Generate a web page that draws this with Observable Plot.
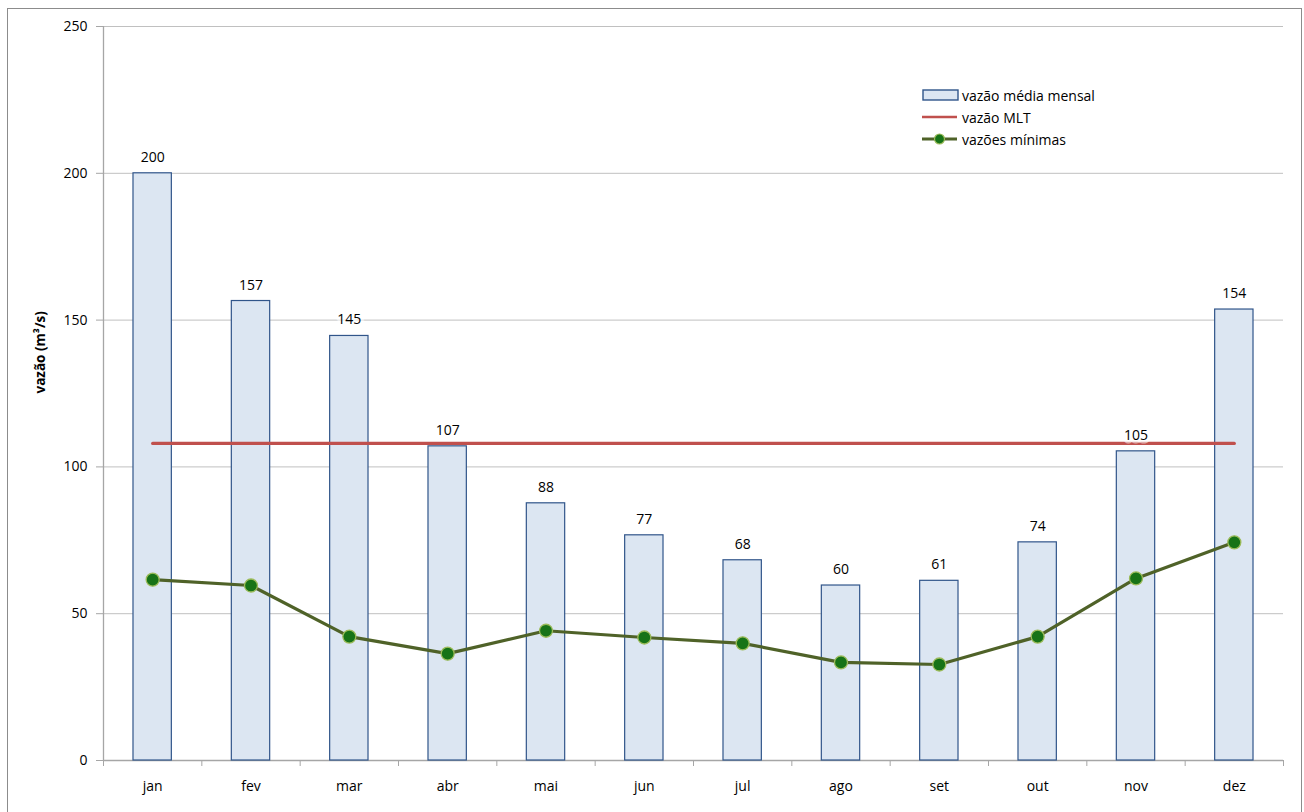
<!DOCTYPE html>
<html>
<head>
<meta charset="utf-8">
<script src="https://cdn.jsdelivr.net/npm/d3@7"></script>
<script src="https://cdn.jsdelivr.net/npm/@observablehq/plot@0.6"></script>
<style>
  html, body { margin: 0; padding: 0; background: #fff; }
  body { width: 1304px; height: 812px; overflow: hidden; position: relative; font-family: "Open Sans", "Noto Sans", sans-serif; }
  #frame { position: absolute; left: 7px; top: 8px; width: 1295px; height: 830px; border: 1px solid #8c8c8c; box-sizing: border-box; }
  #chart { position: absolute; left: 0; top: 0; }
  #legend { position: absolute; left: 922px; top: 84px; font-size: 14px; color: #000; }
  #legend .row { height: 22px; display: flex; align-items: center; }
  #legend svg { margin-right: 2px; }
</style>
</head>
<body>
<div id="frame"></div>
<div id="chart"></div>
<div id="legend"></div>
<script>
const months = ["jan","fev","mar","abr","mai","jun","jul","ago","set","out","nov","dez"];
const monthlyMean = [200.0, 156.5, 144.6, 107.0, 87.6, 76.7, 68.2, 59.6, 61.2, 74.3, 105.3, 153.6];
const minFlows = [61.6, 59.6, 42.2, 36.4, 44.2, 41.9, 39.9, 33.4, 32.7, 42.2, 62.0, 74.3];
const mlt = 108.0;
const yTicks = [0, 50, 100, 150, 200, 250];
const seriesNames = ["vazão média mensal", "vazão MLT", "vazões mínimas"];

const data = months.map((m, i) => ({ month: m, i, mean: monthlyMean[i], min: minFlows[i] }));
const boundaries = d3.range(months.length + 1);
const centers = data.map(d => d.i + 0.5);

const font = "'Open Sans', 'Noto Sans', sans-serif";

const chart = Plot.plot({
  width: 1304,
  height: 812,
  marginLeft: 103,
  marginRight: 21,
  marginTop: 26,
  marginBottom: 52,
  style: { fontFamily: font, fontSize: "13px", background: "transparent", color: "#000" },
  x: { type: "linear", domain: [0, months.length], axis: null },
  y: { domain: [0, 250], axis: null },
  marks: [
    Plot.ruleY(yTicks.filter(d => d > 0), { stroke: "#c0c0c0", strokeWidth: 1 }),
    Plot.axisY({ ticks: yTicks, tickSize: 7, tickPadding: 9, stroke: "#a6a6a6", fontSize: 14, tickFormat: d3.format("d"), label: null }),
    Plot.ruleX([0], { stroke: "#a6a6a6", strokeWidth: 1.3 }),
    Plot.ruleY([0], { stroke: "#a6a6a6", strokeWidth: 1.3 }),
    Plot.axisX({ ticks: boundaries, tickSize: 6, tickFormat: () => "", stroke: "#a6a6a6", label: null }),
    Plot.axisX({ ticks: centers, tickSize: 0, tickPadding: 21, fontSize: 14, tickFormat: v => months[Math.floor(v)], label: null }),
    Plot.text(["vazão (m³/s)"], { frameAnchor: "left", dx: -63, rotate: -90, fontWeight: "bold", fontSize: 13.5, text: d => d }),
    Plot.rectY(data, { x1: d => d.i + 0.305, x2: d => d.i + 0.695, y: "mean", fill: "#dce6f2", stroke: "#30558a", strokeWidth: 1.2 }),
    Plot.line([{ x: 0.5, y: mlt }, { x: months.length - 0.5, y: mlt }], { x: "x", y: "y", stroke: "#c0504d", strokeWidth: 3.2 }),
    Plot.text(data, { x: d => d.i + 0.5, y: "mean", dy: -16, text: d => d3.format(".0f")(d.mean), fontSize: 14, fill: "#000", stroke: "white", strokeOpacity: 0.55, strokeWidth: 7 }),
    Plot.line(data, { x: d => d.i + 0.5, y: "min", stroke: "#4f6228", strokeWidth: 3.2 }),
    Plot.dot(data, { x: d => d.i + 0.5, y: "min", r: 6.5, fill: "#177317", stroke: "#9bbb59", strokeWidth: 1.3 })
  ]
});
document.getElementById("chart").appendChild(chart);

const legend = document.getElementById("legend");
const icons = [
  `<svg width="38" height="12"><rect x="1" y="1" width="35" height="10" fill="#dce6f2" stroke="#30558a" stroke-width="1.4"/></svg>`,
  `<svg width="38" height="12"><line x1="0" y1="6" x2="35" y2="6" stroke="#c0504d" stroke-width="2.5"/></svg>`,
  `<svg width="38" height="14"><line x1="0" y1="7" x2="35" y2="7" stroke="#4f6228" stroke-width="2.8"/><circle cx="17.5" cy="7" r="5" fill="#177317" stroke="#9bbb59" stroke-width="1.2"/></svg>`
];
seriesNames.forEach((name, k) => {
  const row = document.createElement("div");
  row.className = "row";
  row.innerHTML = icons[k] + `<span>${name}</span>`;
  legend.appendChild(row);
});
</script>
</body>
</html>
